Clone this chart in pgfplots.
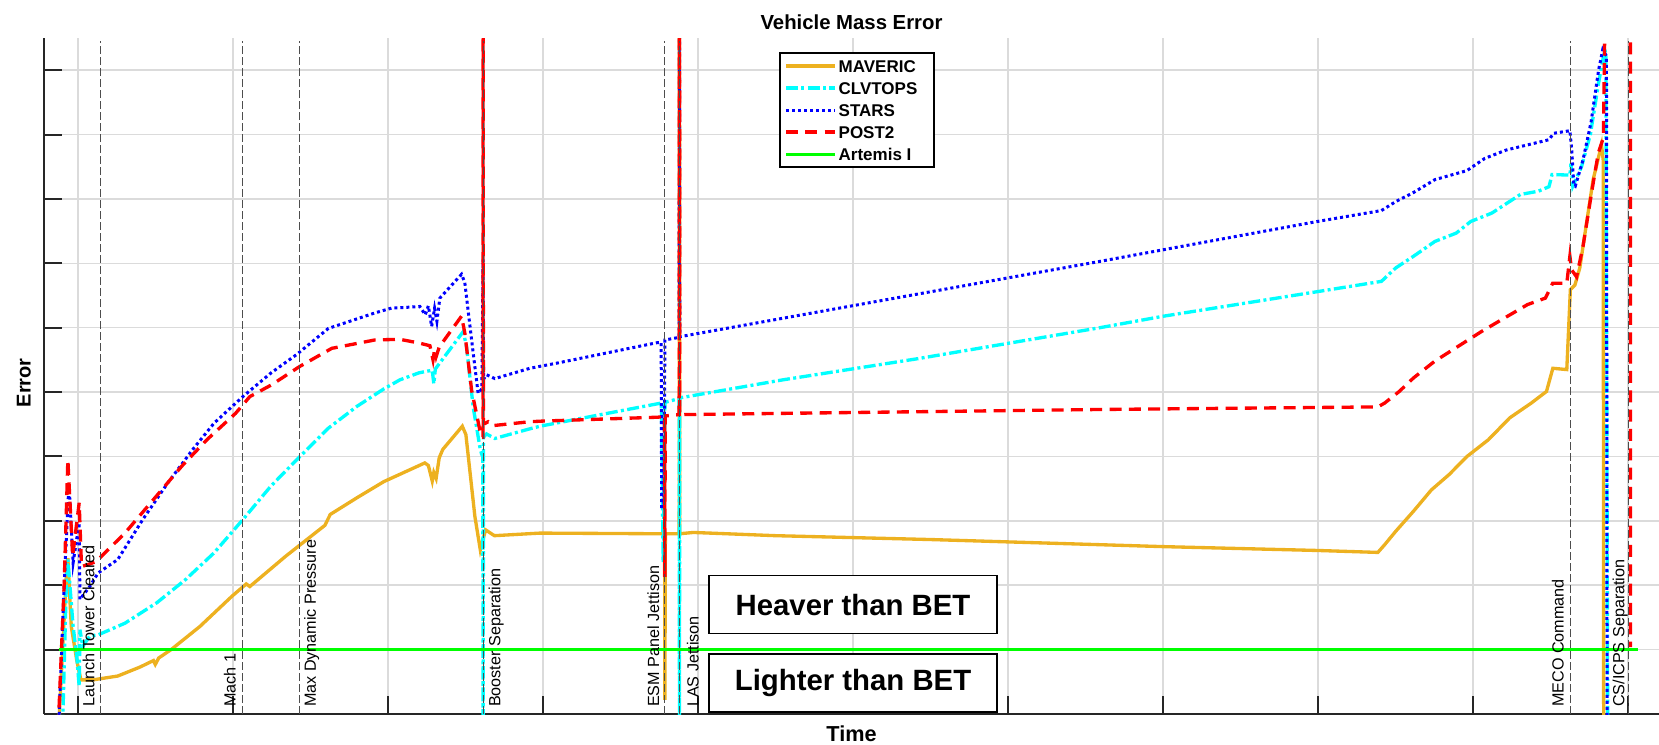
\documentclass[border=0pt]{standalone}
\usepackage{pgfplots}
\pgfplotsset{compat=1.18}
\usepackage{fontspec}
\setmainfont{Liberation Sans}

\definecolor{mavOrange}{rgb}{0.929,0.694,0.125}
\definecolor{clvCyan}{rgb}{0,1,1}
\definecolor{starsBlue}{rgb}{0,0,1}
\definecolor{postRed}{rgb}{1,0,0}
\definecolor{artGreen}{rgb}{0,1,0}
\definecolor{axgray}{HTML}{262626}
\definecolor{evgray}{HTML}{4D4D4D}

\begin{document}
\begin{tikzpicture}
\begin{axis}[
  scale only axis,
  width=484.5pt, height=202.8pt,
  xmin=-0.22, xmax=10.2, ymin=-1, ymax=9.5,
  axis lines=left,
  axis line style={-, line width=0.6pt, color=axgray},
  xtick={0,...,10}, ytick={-1,...,9},
  xticklabels={}, yticklabels={},
  tick align=inside,
  major tick length=5.3pt,
  tick style={line width=0.6pt, color=axgray},
  grid=major,
  major grid style={line width=0.45pt, color=black!14},
  title={Vehicle Mass Error},
  every axis title shift=0pt,
  every axis title/.style={font=\bfseries\fontsize{6.1}{7}\selectfont, at={(axis description cs:0.5,1.0118)}, anchor=south, inner sep=0pt},
  xlabel={Time},
  every axis x label/.style={font=\bfseries\fontsize{6.5}{7}\selectfont, at={(axis description cs:0.5,-0.0163)}, anchor=north, inner sep=0pt},
  ylabel={Error},
  every axis y label/.style={font=\bfseries\fontsize{6}{7}\selectfont, at={(axis description cs:-0.0078,0.49)}, rotate=90, anchor=south, inner sep=0pt},
  legend style={at={(0.455,0.979)}, anchor=north west, draw=black, line width=0.5pt, fill=white,
    font=\bfseries\fontsize{5.1}{6}\selectfont, inner xsep=1.4pt, inner ysep=1.4pt, row sep=1.6pt,
    nodes={inner sep=0.6pt, text height=3.8pt, text depth=0pt}},
  legend cell align=left,
  legend image code/.code={\draw[#1] (0pt,0pt) -- (14.7pt,0pt);},
]

% MAVERIC
\addplot[color=mavOrange, line width=1pt] coordinates {
(-0.125,-1.2) (-0.075,1.2) (-0.066,1.42) (-0.044,0.36) (-0.009,-0.16) (0.018,-0.47)
(0.095,-0.47) (0.256,-0.41) (0.40,-0.27) (0.486,-0.17) (0.498,-0.23) (0.52,-0.13)
(0.60,0.0) (0.786,0.36) (0.993,0.83) (1.085,1.02) (1.108,0.98) (1.339,1.45)
(1.592,1.93) (1.627,2.10) (1.80,2.36) (1.973,2.61) (2.237,2.90) (2.26,2.86)
(2.285,2.62) (2.295,2.75) (2.31,2.66) (2.33,2.98) (2.353,3.11) (2.479,3.47)
(2.502,3.34) (2.56,2.07) (2.595,1.55) (2.629,1.86) (2.686,1.77) (2.98,1.81)
(3.74,1.80) (3.784,1.80) (3.786,-0.78) (3.789,1.80) (3.878,1.80) (3.880,12)
(3.882,1.80) (3.97,1.82) (4.5,1.77) (5.5,1.71) (6.592,1.63) (7.0,1.60)
(8.0,1.54) (8.386,1.51) (8.43,1.63) (8.502,1.84) (8.616,2.15) (8.731,2.48)
(8.846,2.72) (8.961,3.00) (9.099,3.26) (9.237,3.60) (9.376,3.83) (9.474,4.01)
(9.515,4.37) (9.605,4.35) (9.628,5.59) (9.657,5.66) (9.689,5.93) (9.732,6.62)
(9.775,7.30) (9.829,7.84) (9.840,7.60) (9.843,-1.2)
};
\addlegendentry{\makebox[26.5pt][l]{MAVERIC}}

% CLVTOPS
\addplot[color=clvCyan, line width=1pt, dash pattern=on 3.6pt off 1pt on 0.9pt off 1pt] coordinates {
(-0.10,-1.2) (-0.075,1.1) (-0.066,1.40) (-0.032,0.36) (-0.009,-0.10) (0.007,-0.57)
(0.012,0.31) (0.03,0.05) (0.075,0.21) (0.13,0.23) (0.302,0.41) (0.509,0.73)
(0.694,1.09) (0.876,1.50) (1.063,2.02) (1.244,2.54) (1.431,3.00) (1.615,3.44)
(1.80,3.78) (1.973,4.05) (2.076,4.19) (2.20,4.30) (2.285,4.34) (2.295,4.13)
(2.305,4.36) (2.485,4.94) (2.506,4.71) (2.549,3.77) (2.592,3.15) (2.603,3.04)
(2.611,3.00) (2.613,-1.2) (2.616,3.30) (2.635,3.35) (2.689,3.28) (2.915,3.43)
(2.98,3.47) (3.763,3.83) (3.775,1.35) (3.786,3.84) (3.878,3.90) (3.880,-1.2)
(3.882,3.91) (4.546,4.19) (5.42,4.52) (6.592,5.00) (7.005,5.18) (7.995,5.56)
(8.409,5.72) (8.502,5.93) (8.616,6.11) (8.754,6.34) (8.892,6.47) (8.985,6.65)
(9.121,6.78) (9.306,7.07) (9.421,7.12) (9.49,7.19) (9.51,7.38) (9.625,7.37)
(9.632,7.55) (9.644,7.20) (9.70,7.50) (9.757,8.00) (9.81,8.80) (9.85,9.32)
(9.857,9.25) (9.869,-1.2)
};
\addlegendentry{CLVTOPS}

% STARS
\addplot[color=starsBlue, line width=0.9pt, dash pattern=on 0.9pt off 0.9pt] coordinates {
(-0.125,-1.2) (-0.09,1.0) (-0.059,2.59) (-0.032,1.35) (0.007,1.97) (0.012,0.78)
(0.075,0.98) (0.129,1.19) (0.256,1.40) (0.417,2.02) (0.579,2.59) (0.74,3.11)
(0.878,3.52) (1.063,3.93) (1.246,4.30) (1.408,4.58) (1.615,4.99) (1.915,5.23)
(2.03,5.31) (2.076,5.31) (2.205,5.33) (2.24,5.20) (2.26,5.34) (2.281,5.02)
(2.30,5.30) (2.315,5.10) (2.334,5.46) (2.474,5.83) (2.495,5.70) (2.539,4.81)
(2.581,3.98) (2.605,4.05) (2.613,6.06) (2.616,4.20) (2.635,4.27) (2.689,4.21)
(2.915,4.37) (3.089,4.45) (3.74,4.77) (3.762,4.77) (3.765,2.22) (3.78,2.22)
(3.786,4.81) (3.878,4.85) (3.880,12) (3.882,4.86) (6.592,6.03) (7.995,6.65)
(8.409,6.82) (8.502,6.96) (8.616,7.10) (8.754,7.30) (8.96,7.44) (9.076,7.63)
(9.214,7.76) (9.352,7.84) (9.49,7.92) (9.52,8.02) (9.625,8.06) (9.637,7.76)
(9.65,7.22) (9.66,7.20) (9.71,7.61) (9.762,8.20) (9.81,9.00) (9.837,9.32)
(9.861,9.22) (9.865,-1.2)
};
\addlegendentry{STARS}

% POST2
\addplot[color=postRed, line width=1pt, dash pattern=on 3.6pt off 2.2pt] coordinates {
(-0.128,-1.2) (-0.09,1.0) (-0.066,2.95) (-0.035,1.45) (0.007,2.28) (0.022,1.29)
(0.075,1.33) (0.117,1.37) (0.302,1.81) (0.486,2.33) (0.669,2.85) (0.831,3.26)
(1.016,3.67) (1.108,3.93) (1.246,4.11) (1.431,4.40) (1.637,4.68) (1.915,4.81)
(2.076,4.82) (2.205,4.76) (2.27,4.72) (2.29,4.50) (2.30,4.66) (2.31,4.55)
(2.33,4.70) (2.474,5.18) (2.495,4.92) (2.539,4.03) (2.592,3.41) (2.603,3.30)
(2.612,3.30) (2.613,12) (2.615,3.50) (2.646,3.54) (2.678,3.48) (2.915,3.54)
(3.0,3.55) (3.74,3.61) (3.784,3.62) (3.786,1.13) (3.788,3.63) (3.878,3.65)
(3.880,12) (3.882,3.65) (6.592,3.73) (8.386,3.77) (8.43,3.83) (8.524,4.01)
(8.616,4.22) (8.753,4.48) (9.054,4.94) (9.167,5.10) (9.352,5.36) (9.467,5.46)
(9.514,5.69) (9.605,5.69) (9.625,6.11) (9.636,5.90) (9.668,5.79) (9.71,6.27)
(9.765,7.10) (9.808,7.71) (9.841,7.95) (9.863,12) (10.015,12) (10.016,0.04)
};
\addlegendentry{POST2}

% Artemis I reference
\addplot[color=artGreen, line width=0.9pt] coordinates {(-0.125,0) (10.065,0)};
\addlegendentry{Artemis I}

% event markers
\pgfplotsinvokeforeach{0.143,1.06,1.426,2.613,3.785,3.88,9.628,10.0}{
  \addplot[forget plot, color=evgray, line width=0.3pt, dash pattern=on 2.3pt off 1pt] coordinates {(#1,-1) (#1,9.45)};
}

\coordinate (O) at (rel axis cs:0,0);

\tikzset{evlab/.style={rotate=90, anchor=west, inner sep=0pt, font=\fontsize{4.85}{5}\selectfont}}
\node[evlab] at (axis cs:0.067,-0.9) {Launch Tower Cleared};
\node[evlab] at (axis cs:0.979,-0.9) {Mach 1};
\node[evlab] at (axis cs:1.507,-0.9) {Max Dynamic Pressure};
\node[evlab] at (axis cs:2.698,-0.9) {Booster Separation};
\node[evlab] at (axis cs:3.712,-0.9) {ESM Panel Jettison};
\node[evlab] at (axis cs:3.966,-0.9) {LAS Jettison};
\node[evlab] at (axis cs:9.547,-0.9) {MECO Command};
\node[evlab] at (axis cs:9.950,-0.9) {CS/ICPS Separation};

\tikzset{regbox/.style={draw=black, line width=0.45pt, fill=white, minimum width=86.5pt, minimum height=17.4pt, inner sep=0pt, font=\bfseries\fontsize{8.8}{10}\selectfont}}
\node[regbox] at (axis cs:5.0,0.70) {Heaver than BET};
\node[regbox] at (axis cs:5.0,-0.52) {Lighter than BET};
\end{axis}
\pgfresetboundingbox
\path[use as bounding box] (O) ++(-13.2pt,-9pt) rectangle ++(497.7pt,223.2pt);
\end{tikzpicture}
\end{document}
